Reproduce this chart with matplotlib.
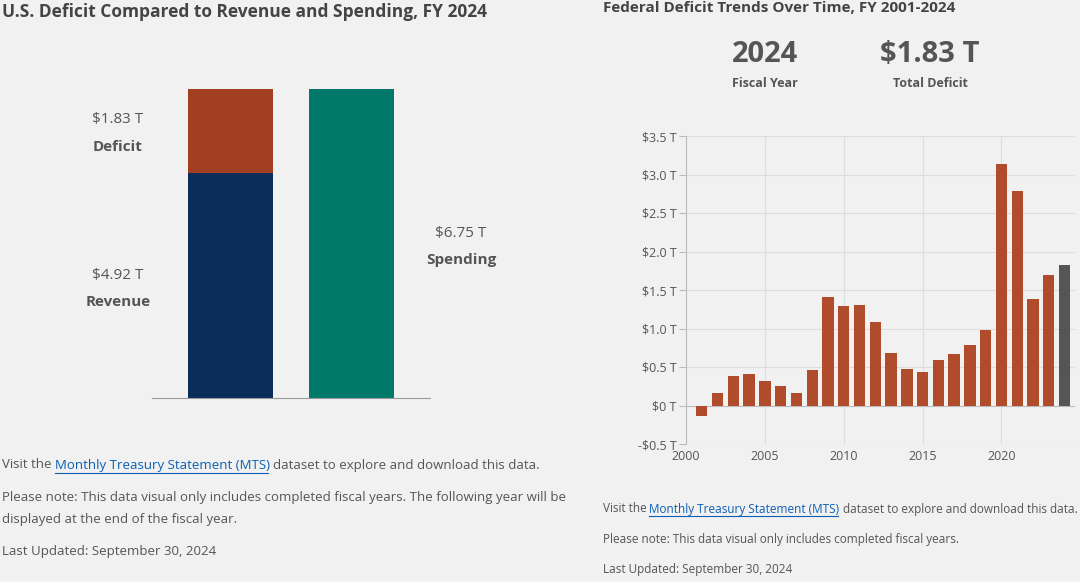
import matplotlib
matplotlib.use("Agg")
import matplotlib.pyplot as plt

revenue = 4.92
deficit = 1.83
spending = 6.75
years = list(range(2001, 2025))
deficits = [-0.13, 0.16, 0.38, 0.41, 0.32, 0.25, 0.16, 0.46, 1.41, 1.29, 1.30, 1.08,
            0.68, 0.48, 0.44, 0.59, 0.67, 0.78, 0.98, 3.13, 2.78, 1.38, 1.70, 1.83]
yticks = [-0.5, 0, 0.5, 1.0, 1.5, 2.0, 2.5, 3.0, 3.5]
ytick_labels = ["-$0.5 T", "$0 T", "$0.5 T", "$1.0 T", "$1.5 T", "$2.0 T", "$2.5 T", "$3.0 T", "$3.5 T"]

plt.rcParams['font.family'] = ['Open Sans', 'DejaVu Sans']
BG = "#f1f1f1"
TXT = "#555555"
fig = plt.figure(figsize=(10.8, 5.82), dpi=100, facecolor=BG)
W, H = 1080, 582
def ax_at(x0, y0, x1, y1):
    return fig.add_axes([x0 / W, 1 - y1 / H, (x1 - x0) / W, (y1 - y0) / H])

# Left chart
fig.text(2 / W, 1 - 12 / H, "U.S. Deficit Compared to Revenue and Spending, FY 2024",
         fontsize=12.5, fontweight='bold', color="#444", va='center')
ax = ax_at(152, 89, 430, 398)
ax.set_facecolor(BG)
ax.bar([0], [revenue], width=0.702, color="#0a2d5a")
ax.bar([0], [deficit], bottom=[revenue], width=0.702, color="#a23f21")
ax.bar([1], [spending], width=0.702, color="#00786a")
ax.set_xlim(-0.649, 1.649)
ax.set_ylim(0, spending)
for s in ['top', 'right', 'left']:
    ax.spines[s].set_visible(False)
ax.spines['bottom'].set_color("#999")
ax.set_xticks([]); ax.set_yticks([])
fig.text(118 / W, 1 - 120 / H, f"${deficit:.2f} T", ha='center', va='center', fontsize=11, color=TXT)
fig.text(118 / W, 1 - 147 / H, "Deficit", ha='center', va='center', fontsize=11, fontweight='bold', color=TXT)
fig.text(118 / W, 1 - 275 / H, f"${revenue:.2f} T", ha='center', va='center', fontsize=11, color=TXT)
fig.text(118 / W, 1 - 302 / H, "Revenue", ha='center', va='center', fontsize=11, fontweight='bold', color=TXT)
fig.text(461 / W, 1 - 233 / H, f"${spending:.2f} T", ha='center', va='center', fontsize=11, color=TXT)
fig.text(461 / W, 1 - 260 / H, "Spending", ha='center', va='center', fontsize=11, fontweight='bold', color=TXT)

fs = 9.5
fig.text(2 / W, 1 - 465 / H, "Visit the ", fontsize=fs, color=TXT, va='center')
fig.text(55 / W, 1 - 465 / H, "Monthly Treasury Statement (MTS)", fontsize=fs, color="#0a5fb4", va='center')
fig.add_artist(plt.Line2D([55 / W, 268 / W], [1 - 473 / H, 1 - 473 / H], color="#0a5fb4", lw=0.8))
fig.text(273 / W, 1 - 465 / H, "dataset to explore and download this data.", fontsize=fs, color=TXT, va='center')
fig.text(2 / W, 1 - 498 / H, "Please note: This data visual only includes completed fiscal years. The following year will be",
         fontsize=fs, color=TXT, va='center')
fig.text(2 / W, 1 - 519 / H, "displayed at the end of the fiscal year.", fontsize=fs, color=TXT, va='center')
fig.text(2 / W, 1 - 552 / H, "Last Updated: September 30, 2024", fontsize=fs, color=TXT, va='center')

# Right chart
fig.text(603 / W, 1 - 8 / H, "Federal Deficit Trends Over Time, FY 2001-2024",
         fontsize=11, fontweight='bold', color="#444", va='center')
fig.text(765 / W, 1 - 55 / H, "2024", ha='center', va='center', fontsize=21, fontweight='bold', color=TXT)
fig.text(765 / W, 1 - 84 / H, "Fiscal Year", ha='center', va='center', fontsize=9, fontweight='bold', color=TXT)
fig.text(930 / W, 1 - 55 / H, f"${deficit:.2f} T", ha='center', va='center', fontsize=21, fontweight='bold', color=TXT)
fig.text(930 / W, 1 - 84 / H, "Total Deficit", ha='center', va='center', fontsize=9, fontweight='bold', color=TXT)

ax2 = ax_at(686, 136, 1075, 444)
ax2.set_facecolor(BG)
colors = ["#555555" if y == 2024 else "#b04c2b" for y in years]
ax2.bar(years, deficits, width=0.72, color=colors, zorder=3)
ax2.set_xlim(2000.13, 2024.66)
ax2.set_ylim(-0.5, 3.5)
ax2.set_yticks(yticks)
ax2.set_yticklabels(ytick_labels, fontsize=9, color=TXT)
ax2.set_xticks([2000, 2005, 2010, 2015, 2020])
ax2.tick_params(axis='x', labelsize=9, colors=TXT, length=0, pad=4)
ax2.tick_params(axis='y', length=5, color="#bbb", pad=2)
ax2.grid(True, color="#dddddd", lw=0.8, zorder=0)
for s in ['top', 'right', 'bottom']:
    ax2.spines[s].set_visible(False)
ax2.spines['left'].set_color("#bbb")
ax2.axhline(0, color="#bbb", lw=0.8, zorder=2)

fs2 = 8.5
fig.text(603 / W, 1 - 509 / H, "Visit the ", fontsize=fs2, color=TXT, va='center')
fig.text(649 / W, 1 - 509 / H, "Monthly Treasury Statement (MTS)", fontsize=fs2, color="#0a5fb4", va='center')
fig.add_artist(plt.Line2D([649 / W, 838 / W], [1 - 516 / H, 1 - 516 / H], color="#0a5fb4", lw=0.8))
fig.text(843 / W, 1 - 509 / H, "dataset to explore and download this data.", fontsize=fs2, color=TXT, va='center')
fig.text(603 / W, 1 - 539 / H, "Please note: This data visual only includes completed fiscal years.",
         fontsize=fs2, color=TXT, va='center')
fig.text(603 / W, 1 - 569 / H, "Last Updated: September 30, 2024", fontsize=fs2, color=TXT, va='center')

fig.savefig("out.png", dpi=100, facecolor=BG)
